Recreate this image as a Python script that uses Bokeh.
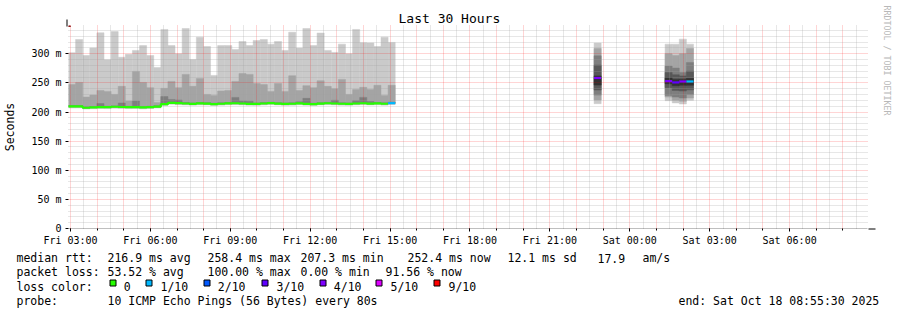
import math
import datetime as dt
from bokeh.plotting import figure
from bokeh.layouts import column, row
from bokeh.models import (Range1d, FixedTicker, Grid, Arrow, NormalHead, ColumnDataSource)
from bokeh.core.properties import value
from bokeh.embed import file_html
from bokeh.resources import INLINE

# ---------------- data ----------------
END_TIME = dt.datetime(2025, 10, 18, 8, 55, 30)
SPAN_HOURS = 30
STEP_SECONDS = 960          # one consolidated row (12 x 80 s)

bar_index = list(range(46)) + [74, 84, 85, 86, 87]

median_rtt = [209.5, 209.5, 207.3, 207.9, 208.5, 208.2, 209.0, 208.6, 208.2, 208.4,
              207.8, 208.3, 209.1, 213.4, 215.8, 215.2, 214.6, 214.0, 214.8, 214.4,
              213.6, 214.2, 214.8, 215.0, 214.6, 214.0, 213.8, 214.6, 215.2, 214.4,
              213.8, 214.2, 214.8, 214.0, 213.6, 214.4, 215.0, 214.6, 214.2, 213.8,
              214.6, 215.0, 214.4, 214.8, 214.2, 215.2,
              258.4, 253.0, 250.8, 252.4, 252.4]

loss_tenths = [0, 0, 0, 0, 0, 0, 0, 0, 0, 0, 0, 0, 0, 0, 0, 0, 0, 0, 0, 0,
               0, 0, 0, 0, 0, 0, 0, 0, 0, 0, 0, 0, 0, 0, 0, 0, 0, 0, 0, 0,
               0, 0, 0, 0, 0, 1,
               4, 4, 3, 4, 1]

ping_min = [206.8, 207.0, 205.0, 205.6, 206.0, 205.8, 206.4, 206.2, 205.9, 206.0,
            205.4, 206.0, 206.8, 211.0, 213.2, 212.6, 212.2, 211.6, 212.2, 212.0,
            211.2, 211.8, 212.4, 212.6, 212.2, 211.6, 211.4, 212.2, 212.8, 212.0,
            211.4, 211.8, 212.4, 211.6, 211.2, 212.0, 212.6, 212.2, 211.8, 211.4,
            212.2, 212.6, 212.0, 212.4, 211.8, 212.8,
            214.3, 219.4, 215.6, 213.7, 220.0]

ping_2 = [208.3, 208.3, 206.1, 206.7, 207.3, 207.0, 207.8, 207.4, 207.0, 207.2,
          206.6, 207.1, 207.9, 212.2, 214.6, 214.0, 213.4, 212.8, 213.6, 213.2,
          212.4, 213.0, 213.6, 213.8, 213.4, 212.8, 212.6, 213.4, 214.0, 213.2,
          212.6, 213.0, 213.6, 212.8, 212.4, 213.2, 213.8, 213.4, 213.0, 212.6,
          213.4, 213.8, 213.2, 213.6, 213.0, 214.0,
          220.5, 225.6, 220.0, 218.5, 224.0]

ping_8 = [211.0, 211.0, 208.8, 209.4, 214.5, 209.7, 210.5, 215.5, 209.7, 218.8,
          209.3, 209.8, 210.6, 226.5, 221.5, 220.5, 216.1, 215.5, 216.3, 215.9,
          215.1, 215.7, 216.3, 225.0, 219.0, 218.5, 215.3, 216.1, 216.7, 215.9,
          215.3, 215.7, 217.5, 223.4, 215.1, 215.9, 216.5, 220.0, 215.7, 215.3,
          219.4, 225.1, 218.0, 216.3, 215.7, 216.7,
          296.5, 278.8, 275.4, 268.0, 285.0]

ping_9 = [247.0, 250.7, 225.6, 229.0, 237.0, 235.4, 230.2, 244.0, 218.8, 269.7,
          250.7, 241.7, 216.5, 240.6, 252.5, 241.7, 264.5, 244.0, 257.7, 230.2,
          228.5, 236.0, 237.0, 252.5, 266.2, 264.5, 249.0, 247.0, 235.4, 249.0,
          235.4, 262.3, 237.0, 245.2, 241.7, 253.7, 244.0, 240.0, 256.0, 230.2,
          238.8, 242.3, 238.8, 245.8, 228.5, 245.8,
          309.1, 300.0, 297.0, 300.0, 309.0]

ping_max = [301.7, 324.5, 297.0, 310.0, 336.0, 289.7, 338.0, 294.0, 299.0, 305.7,
            314.0, 297.0, 276.5, 341.7, 314.0, 300.0, 343.4, 290.0, 328.5, 312.5,
            262.8, 314.0, 314.0, 307.4, 321.0, 314.0, 322.8, 324.5, 316.5, 321.0,
            305.7, 337.0, 309.7, 343.4, 314.0, 335.5, 305.7, 302.3, 316.5, 300.0,
            341.7, 319.0, 318.5, 312.5, 328.5, 319.4,
            318.3, 316.5, 316.5, 325.1, 316.5]

# inner pings, only resolvable for the late bars (74, 84-87)
ping_3_late = [229.0, 228.5, 225.6, 224.0, 230.0]
ping_4_late = [237.6, 241.7, 237.0, 236.0, 238.0]
ping_5_late = [246.2, 248.6, 245.0, 246.0, 246.0]
ping_6_late = [262.0, 258.8, 256.0, 256.0, 258.0]
ping_7_late = [280.5, 268.0, 264.0, 262.0, 270.0]

y_ticks = [0, 50, 100, 150, 200, 250, 300]
y_tick_labels = ["0", "50 m", "100 m", "150 m", "200 m", "250 m", "300 m"]
x_tick_hours = [3, 6, 9, 12, 15, 18, 21, 24, 27, 30]   # hours after Fri 17 Oct 00:00
x_tick_labels = ["Fri 03:00", "Fri 06:00", "Fri 09:00", "Fri 12:00", "Fri 15:00",
                 "Fri 18:00", "Fri 21:00", "Sat 00:00", "Sat 03:00", "Sat 06:00"]

loss_levels = [0, 1, 2, 3, 4, 5, 9]
loss_labels = ["0", "1/10", "2/10", "3/10", "4/10", "5/10", "9/10"]
loss_colors = ["#26ff00", "#00b8ff", "#0059ff", "#5e00ff", "#7e00ff", "#dd00ff", "#ff0000"]
smoke_colors = ["#cacaca", "#a4a4a4", "#7e7e7e", "#585858", "#323232"]

stat_rows = [
    [("median rtt:", 16), ("216.9 ms avg", 107), ("258.4 ms max", 207),
     ("207.3 ms min", 300), ("252.4 ms now", 407), ("12.1 ms sd", 507),
     ("17.9", 597), ("am/s", 642)],
    [("packet loss:", 16), ("53.52 % avg", 107), ("100.00 % max", 207),
     ("0.00 % min", 300), ("91.56 % now", 385)],
    [("loss color:", 16)],
    [("probe:", 16), ("10 ICMP Echo Pings (56 Bytes) every 80s", 107),
     ("end: Sat Oct 18 08:55:30 2025", 678)],
]

# ---------------- helpers ----------------
EPOCH = dt.datetime(1970, 1, 1)
DAY0 = dt.datetime(2025, 10, 17)
MONO = "DejaVu Sans Mono"
W_TOTAL, H_TOTAL = 897, 310
SIDE_W = 15
MAIN_W = W_TOTAL - SIDE_W
MAIN_H = 248


def to_ms(d):
    return int(round((d - EPOCH).total_seconds() * 1000))


t_end = to_ms(END_TIME)
t_start = to_ms(END_TIME - dt.timedelta(hours=SPAN_HOURS))
step_ms = STEP_SECONDS * 1000
bar_left = [t_start + i * step_ms for i in bar_index]
bar_right = [l + step_ms for l in bar_left]
N_EARLY = 46

# ================= main chart =================
p = figure(width=MAIN_W, height=MAIN_H, output_backend="svg",
           toolbar_location=None,
           x_range=Range1d(t_start, t_end), y_range=Range1d(0, 348.5),
           min_border_left=67, min_border_right=MAIN_W - 867,
           min_border_top=25, min_border_bottom=MAIN_H - 228)
p.background_fill_color = "white"
p.border_fill_color = "white"
p.outline_line_color = None
p.xgrid.visible = False
p.ygrid.visible = False

p.title.text = "Last 30 Hours"
p.title.align = "left"
p.title.offset = 330
p.title.standoff = 0
p.title.text_font = MONO
p.title.text_font_size = "13px"
p.title.text_font_style = "normal"
p.title.text_color = "#000000"

# ---- smoke ----
q = dict(left=[], right=[], bottom=[], top=[], color=[])


def add_quad(k, lo, hi, c):
    q["left"].append(bar_left[k])
    q["right"].append(bar_right[k])
    q["bottom"].append(lo)
    q["top"].append(hi)
    q["color"].append(c)


for k in range(len(bar_index)):
    add_quad(k, ping_min[k], ping_max[k], smoke_colors[0])
for k in range(len(bar_index)):
    add_quad(k, ping_2[k], ping_9[k], smoke_colors[1])
for k in range(len(bar_index)):
    lo3 = median_rtt[k] if k < N_EARLY else ping_3_late[k - N_EARLY]
    add_quad(k, lo3, ping_8[k], smoke_colors[2])
for j in range(len(ping_4_late)):
    add_quad(N_EARLY + j, ping_4_late[j], ping_7_late[j], smoke_colors[3])
for j in range(len(ping_5_late)):
    add_quad(N_EARLY + j, ping_5_late[j], ping_6_late[j], smoke_colors[4])

p.quad(left="left", right="right", bottom="bottom", top="top",
       fill_color="color", line_color="color", line_width=0.5,
       source=ColumnDataSource(q))

# ---- grid (over the smoke) ----
hour_ms, half_ms = [], []
for h in range(0, 34):
    t = to_ms(DAY0 + dt.timedelta(hours=h))
    if t_start <= t <= t_end:
        hour_ms.append(t)
    t2 = to_ms(DAY0 + dt.timedelta(hours=h, minutes=30))
    if t_start <= t2 <= t_end:
        half_ms.append(t2)
y_minor = [v for v in range(10, 350, 10) if v % 50]

grid_style = dict(grid_line_color="#ff0000", grid_line_alpha=0.33, grid_line_dash="1 1",
                  minor_grid_line_color="#a0a0a0", minor_grid_line_alpha=0.5,
                  minor_grid_line_dash="1 1", level="guide")
p.add_layout(Grid(dimension=0, ticker=FixedTicker(ticks=hour_ms, minor_ticks=half_ms),
                  **grid_style))
p.add_layout(Grid(dimension=1, ticker=FixedTicker(ticks=y_ticks[1:], minor_ticks=y_minor),
                  **grid_style))


# ---- median lines, coloured by loss ----
def loss_color(n):
    c = loss_colors[0]
    for lv, col in zip(loss_levels, loss_colors):
        if n >= lv:
            c = col
    return c


ml = dict(xs=[], ys=[], color=[])
cur_x, cur_y, cur_c = None, None, None
for k in range(len(bar_index)):
    c = loss_color(loss_tenths[k])
    new_run = (k == 0 or bar_index[k] != bar_index[k - 1] + 1 or c != cur_c)
    if new_run:
        if cur_x:
            ml["xs"].append(cur_x); ml["ys"].append(cur_y); ml["color"].append(cur_c)
        cur_x, cur_y, cur_c = [], [], c
    cur_x += [bar_left[k], bar_right[k]]
    cur_y += [median_rtt[k], median_rtt[k]]
ml["xs"].append(cur_x); ml["ys"].append(cur_y); ml["color"].append(cur_c)
mr = p.multi_line(xs="xs", ys="ys", line_color="color", line_width=2.2,
                  source=ColumnDataSource(ml))
mr.level = "annotation"

# ---- axes ----
xa = p.xaxis[0]
x_tick_ms = [to_ms(DAY0 + dt.timedelta(hours=h)) for h in x_tick_hours]
xa.ticker = FixedTicker(ticks=x_tick_ms, minor_ticks=hour_ms)
xa.major_label_overrides = {t: lab for t, lab in zip(x_tick_ms, x_tick_labels)}
xa.axis_line_color = None
xa.major_tick_in = 0
xa.major_tick_out = 3
xa.minor_tick_in = 0
xa.minor_tick_out = 2
xa.major_label_standoff = 3
xa.major_label_text_font = MONO
xa.major_label_text_font_size = "10px"
xa.major_label_text_color = "#000000"

ya = p.yaxis[0]
ya.ticker = FixedTicker(ticks=y_ticks, minor_ticks=[])
ya.major_label_overrides = {t: lab for t, lab in zip(y_ticks, y_tick_labels)}
ya.axis_line_color = None
ya.major_tick_in = 0
ya.major_tick_out = 3
ya.minor_tick_in = 0
ya.minor_tick_out = 0
ya.major_label_standoff = 4
ya.major_label_text_font = MONO
ya.major_label_text_font_size = "10px"
ya.major_label_text_color = "#000000"
ya.axis_label = "Seconds"
ya.axis_label_standoff = 11
ya.axis_label_text_font = MONO
ya.axis_label_text_font_size = "11.5px"
ya.axis_label_text_font_style = "normal"
ya.axis_label_text_color = "#000000"

# axis lines with arrows
ARROW_RED = "#8b1a1a"
p.add_layout(Arrow(x_start=66.5, y_start=232, x_end=66.5, y_end=19,
                   start_units="canvas", end_units="canvas",
                   line_color="black", line_width=1,
                   end=NormalHead(size=7, fill_color=ARROW_RED, line_color=ARROW_RED)))
p.add_layout(Arrow(x_start=62, y_start=228.5, x_end=875, y_end=228.5,
                   start_units="canvas", end_units="canvas",
                   line_color="black", line_width=1,
                   end=NormalHead(size=7, fill_color=ARROW_RED, line_color=ARROW_RED)))


def blank_fig(w, h, xr, yr):
    f = figure(width=w, height=h, output_backend="svg", toolbar_location=None,
               x_range=xr, y_range=yr, min_border=0, title_location=None,
               x_axis_location=None, y_axis_location=None)
    f.xgrid.visible = False
    f.ygrid.visible = False
    f.outline_line_color = None
    f.background_fill_color = "white"
    f.border_fill_color = "white"
    return f


# ================= legend / statistics strip (canvas-pixel coordinates) =================
leg = blank_fig(MAIN_W, H_TOTAL - MAIN_H, Range1d(0, MAIN_W), Range1d(H_TOTAL, MAIN_H))
row_baselines = [257.5, 271.8, 286.0, 300.0]
tx = dict(x=[], y=[], text=[])
for yb, items in zip(row_baselines, stat_rows):
    for text, x in items:
        tx["x"].append(x); tx["y"].append(yb); tx["text"].append(text)
swatch_label_x = [123.3, 160, 217.3, 276, 333.3, 390, 448]
sw = dict(left=[], right=[], top=[], bottom=[], color=[])
for text, col, x in zip(loss_labels, loss_colors, swatch_label_x):
    tx["x"].append(x); tx["y"].append(row_baselines[2]); tx["text"].append(text)
    bx = round(x - 14.6) + 0.5
    sw["left"].append(bx); sw["right"].append(bx + 6)
    sw["top"].append(279.5); sw["bottom"].append(285.5); sw["color"].append(col)
leg.text(x="x", y="y", text="text", source=ColumnDataSource(tx),
         text_font=value(MONO), text_font_size=value("11.5px"),
         text_color="#000000", text_baseline="alphabetic", text_align="left")
leg.quad(left="left", right="right", top="top", bottom="bottom", fill_color="color",
         line_color="#000000", line_width=1, source=ColumnDataSource(sw))

# ================= right strip with the vertical credit (full height) =================
side = blank_fig(SIDE_W, H_TOTAL, Range1d(MAIN_W, W_TOTAL), Range1d(H_TOTAL, 0))
side.text(x=[886.5], y=[5], text=["RRDTOOL / TOBI OETIKER"], angle=-math.pi / 2,
          text_font=value(MONO), text_font_size=value("8.3px"), text_color="#b8b8b8",
          text_baseline="middle", text_align="left")

layout = row(column(row(p, spacing=0), leg, spacing=0), side, spacing=0)
open("out.html", "w").write(file_html(layout, INLINE))
